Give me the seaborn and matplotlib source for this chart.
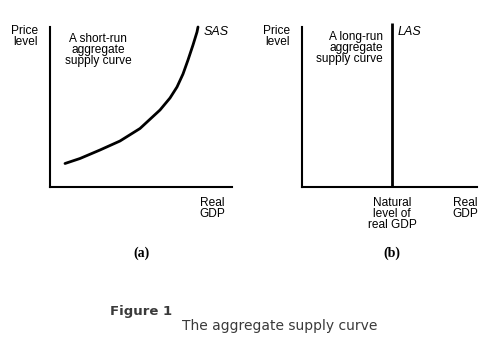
import matplotlib
matplotlib.use("Agg")
import matplotlib.pyplot as plt
import seaborn as sns
import pandas as pd

# ---- data ----
sas_gdp = [15, 30, 50, 70, 90, 110, 120, 127, 133, 138, 143, 147, 148]
sas_price = [23.5, 28.5, 37, 46, 58.5, 77, 89, 100, 113, 127, 142, 155, 160]
las_gdp = 90          # natural level of real GDP (panel b)
las_price = [0, 164]

sns.set_theme(style="white")
plt.rcParams['font.family'] = ['Liberation Sans', 'DejaVu Sans']
plt.rcParams['text.color'] = 'black'

W, H = 490, 345
fig = plt.figure(figsize=(W / 100, H / 100), dpi=100)
fig.patch.set_facecolor("white")

def px_axes(x0, y0, x1, y1):
    return fig.add_axes([x0 / W, 1 - y1 / H, (x1 - x0) / W, (y1 - y0) / H])

def ftext(x, y, s, **kw):
    fig.text(x / W, 1 - y / H, s, **kw)

# panel (a)
axa = px_axes(50, 27, 232, 187)
df = pd.DataFrame({"gdp": sas_gdp, "price": sas_price})
sns.lineplot(data=df, x="gdp", y="price", sort=False, ax=axa, color="black",
             lw=2.0, clip_on=False)
axa.lines[0].set_solid_joinstyle("round")
axa.set_xlim(0, 182)
axa.set_ylim(0, 160)

# panel (b)
axb = px_axes(302, 27, 477, 187)
axb.vlines(las_gdp, las_price[0], las_price[1], color="black", lw=2.0, clip_on=False)
axb.set_xlim(0, 175)
axb.set_ylim(0, 160)

for ax in (axa, axb):
    ax.set_facecolor("none")
    for s in ("top", "right"):
        ax.spines[s].set_visible(False)
    for s in ("left", "bottom"):
        ax.spines[s].set_color("black")
        ax.spines[s].set_linewidth(1.5)
    ax.set_xticks([])
    ax.set_yticks([])
    ax.set_xlabel("")
    ax.set_ylabel("")

fs = 8.6
ls = 0.88
ftext(25, 25, "Price\nlevel", ha="center", va="top", fontsize=fs, linespacing=ls)
ftext(277, 25, "Price\nlevel", ha="center", va="top", fontsize=fs, linespacing=ls)
ftext(98, 33, "A short-run\naggregate\nsupply curve", ha="center", va="top", fontsize=fs, linespacing=ls)
ftext(383, 31, "A long-run\naggregate\nsupply curve", ha="right", va="top", fontsize=fs, linespacing=ls)
ftext(204, 26, "SAS", ha="left", va="top", fontsize=fs + 0.4, style="italic")
ftext(398, 26, "LAS", ha="left", va="top", fontsize=fs + 0.4, style="italic")
ftext(212, 197, "Real\nGDP", ha="center", va="top", fontsize=fs, linespacing=ls)
ftext(392, 197, "Natural\nlevel of\nreal GDP", ha="center", va="top", fontsize=fs, linespacing=ls)
ftext(465, 197, "Real\nGDP", ha="center", va="top", fontsize=fs, linespacing=ls)
ftext(141, 253, "(a)", ha="center", va="center", fontsize=10, family=["Liberation Serif"], weight="bold")
ftext(392, 253, "(b)", ha="center", va="center", fontsize=10, family=["Liberation Serif"], weight="bold")
ftext(110, 312, "Figure 1", ha="left", va="center", fontsize=9.5, family=["DejaVu Sans"], weight="bold", color="#3a3a3a")
ftext(182, 326, "The aggregate supply curve", ha="left", va="center", fontsize=10, family=["DejaVu Sans"], color="#3a3a3a")

fig.savefig("out.png", dpi=100, facecolor="white")
